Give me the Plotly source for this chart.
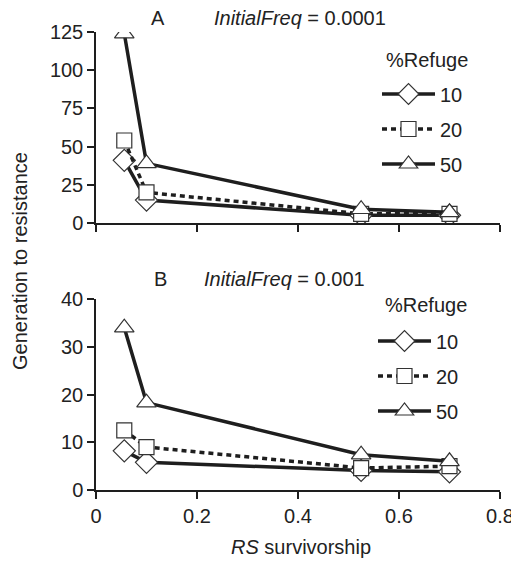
import plotly.graph_objects as go

# RS survivorship values (x) shared by both panels
rs_surv = [0.056, 0.1, 0.525, 0.7]

# panel A, InitialFreq = 0.0001
a_ref10 = [41, 15, 5, 5]
a_ref20 = [54, 20, 6, 6]
a_ref50 = [124, 39, 9, 7]

# panel B, InitialFreq = 0.001
b_ref10 = [8.2, 5.8, 4.1, 3.8]
b_ref20 = [12.5, 9.0, 4.6, 5.0]
b_ref50 = [34, 18.3, 7.4, 6.0]

refuge = ["10", "20", "50"]
x_ticks = [0, 0.2, 0.4, 0.6, 0.8]
a_ticks = [0, 25, 50, 75, 100, 125]
b_ticks = [0, 10, 20, 30, 40]

W, H = 519, 563
OFF = 8  # page body margin shifts the figure by this much

def px(v):
    return (v - OFF) / W

def py(v):
    return 1 - (v - OFF) / H

ink = "#1e1e1e"
font = dict(family="Liberation Sans, Arial, sans-serif", size=20, color="#222")

styles = {
    "10": dict(dash="solid", symbol="diamond", size=17),
    "20": dict(dash="5px,4px", symbol="square", size=15),
    "50": dict(dash="solid", symbol="triangle-up", size=17),
}

fig = go.Figure()

panels = [
    ("x", "y", "legend", [a_ref10, a_ref20, a_ref50]),
    ("x2", "y2", "legend2", [b_ref10, b_ref20, b_ref50]),
]
for xa, ya, lg, series in panels:
    for name, vals in zip(refuge, series):
        st = styles[name]
        fig.add_trace(go.Scatter(
            x=rs_surv, y=vals, name=name, xaxis=xa, yaxis=ya,
            legend=lg, legendgroup=lg + name,
            mode="lines+markers",
            line=dict(color=ink, width=3.5, dash=st["dash"]),
            marker=dict(symbol=st["symbol"], size=st["size"], color="white",
                        line=dict(color="#333", width=1.2)),
        ))

axis = dict(
    showgrid=False, zeroline=False, showline=True, linecolor=ink, linewidth=1.5,
    ticks="outside", ticklen=7, tickwidth=1.5, tickcolor=ink,
    tickfont=font,
)

legend_base = dict(
    font=font, bgcolor="rgba(0,0,0,0)", tracegroupgap=6, itemwidth=53,
    xanchor="left", yanchor="middle",
)

fig.update_layout(
    width=W, height=H,
    margin=dict(l=0, r=0, t=0, b=0, autoexpand=False),
    paper_bgcolor="white", plot_bgcolor="white",
    font=font,
    xaxis=dict(axis, domain=[px(96), px(500)], range=[0, 0.8], tickvals=x_ticks,
               showticklabels=False, anchor="y"),
    yaxis=dict(axis, domain=[py(223), py(32)], range=[0, 125],
               tickvals=a_ticks, anchor="x"),
    xaxis2=dict(axis, domain=[px(96), px(500)], range=[0, 0.8], tickvals=x_ticks,
                ticktext=[str(v) for v in x_ticks], anchor="y2"),
    yaxis2=dict(axis, domain=[py(490), py(299)], range=[0, 40],
                tickvals=b_ticks, anchor="x2"),
    legend=dict(legend_base, x=px(377), y=py(129)),
    legend2=dict(legend_base, x=px(373), y=py(376)),
    showlegend=True,
)

def label(text, x, y, **kw):
    fig.add_annotation(text=text, x=px(x), y=py(y), xref="paper", yref="paper",
                       xanchor="center", yanchor="middle",
                       showarrow=False, font=font, **kw)

label("Generation to resistance", 20, 261, textangle=-90)
label("A", 158, 18)
label("<i>InitialFreq</i> = 0.0001", 300, 18)
label("B", 160, 279)
label("<i>InitialFreq</i> = 0.001", 284, 279)
label("%Refuge", 427, 60)
label("%Refuge", 426, 305)
label("<i>RS</i> survivorship", 301, 547)

fig.write_html("out.html")
